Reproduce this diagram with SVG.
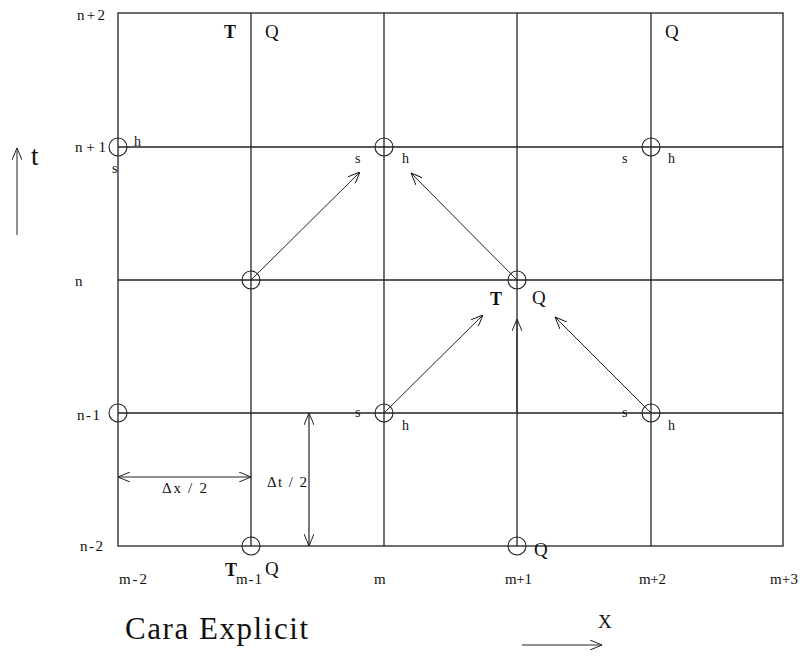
<svg xmlns="http://www.w3.org/2000/svg" width="812" height="659" viewBox="0 0 812 659">
<style>
.grid{stroke:#222;stroke-width:1.3;fill:none}
.arr{stroke:#222;stroke-width:1;fill:none;marker-end:url(#ah)}
.darr{stroke:#222;stroke-width:1.2;fill:none;marker-end:url(#ah);marker-start:url(#ah)}
.node{stroke:#222;stroke-width:1.1;fill:none}
text{font-family:"Liberation Serif","Times New Roman",serif;fill:#111}
.sm{font-size:15px}
.xs{font-size:14px}
.lb{font-size:19px}
.tb{font-size:18px;font-weight:bold}
</style>
<defs>
<marker id="ah" viewBox="0 0 12 10" refX="12" refY="5" markerWidth="12" markerHeight="10" markerUnits="userSpaceOnUse" orient="auto-start-reverse">
<path d="M0,0 L12,5 L0,10" fill="none" stroke="#222" stroke-width="1"/>
</marker>
</defs>
<rect width="812" height="659" fill="#fff"/>
<g id="grid">
<rect class="grid" x="118" y="13" width="665" height="533"/>
<line class="grid" x1="251" y1="13" x2="251" y2="546"/>
<line class="grid" x1="384" y1="13" x2="384" y2="546"/>
<line class="grid" x1="517" y1="13" x2="517" y2="546"/>
<line class="grid" x1="651" y1="13" x2="651" y2="546"/>
<line class="grid" x1="118" y1="147" x2="783" y2="147"/>
<line class="grid" x1="118" y1="280" x2="783" y2="280"/>
<line class="grid" x1="118" y1="413" x2="783" y2="413"/>
</g>
<g id="nodes">
<g id="n-m2-n1"><circle class="node" cx="118" cy="147" r="9"/><text class="xs" x="134" y="146">h</text><text class="xs" x="112" y="173">s</text></g>
<g id="n-m-n1"><circle class="node" cx="384" cy="147" r="9"/><text class="xs" x="355" y="163">s</text><text class="xs" x="402" y="163">h</text></g>
<g id="n-m2p-n1"><circle class="node" cx="651" cy="147" r="9"/><text class="xs" x="622" y="163">s</text><text class="xs" x="668" y="163">h</text></g>
<g id="n-m1-n"><circle class="node" cx="251" cy="280" r="9"/></g>
<g id="n-mp1-n"><circle class="node" cx="517" cy="280" r="9"/><text class="tb" x="490" y="305">T</text><text class="lb" x="532" y="304">Q</text></g>
<g id="n-m2-nm1"><circle class="node" cx="118" cy="413" r="9"/></g>
<g id="n-m-nm1"><circle class="node" cx="384" cy="413" r="9"/><text class="xs" x="355" y="417">s</text><text class="xs" x="402" y="430">h</text></g>
<g id="n-m2p-nm1"><circle class="node" cx="651" cy="413" r="9"/><text class="xs" x="622" y="417">s</text><text class="xs" x="668" y="430">h</text></g>
<g id="n-m1-nm2"><circle class="node" cx="251" cy="546" r="9"/><text class="tb" x="225" y="576">T</text><text class="lb" x="265" y="575">Q</text></g>
<g id="n-mp1-nm2"><circle class="node" cx="517" cy="546" r="9"/><text class="lb" x="534" y="556">Q</text></g>
</g>
<g id="connectors">
<line class="arr" x1="251" y1="280" x2="360" y2="172"/>
<line class="arr" x1="517" y1="280" x2="411" y2="173"/>
<line class="arr" x1="384" y1="413" x2="483" y2="315"/>
<line class="arr" x1="517" y1="413" x2="517" y2="319"/>
<line class="arr" x1="651" y1="413" x2="555" y2="317"/>
<line class="darr" x1="118" y1="477" x2="251" y2="477"/>
<line class="darr" x1="309" y1="413" x2="309" y2="546"/>
<line class="arr" x1="17" y1="235" x2="17" y2="148"/>
<line class="arr" x1="522" y1="645" x2="602" y2="645"/>
</g>
<g id="labels">
<text class="tb" x="224" y="38">T</text>
<text class="lb" x="265" y="38">Q</text>
<text class="lb" x="665" y="38">Q</text>
<text class="sm" x="77" y="20" textLength="28">n+2</text>
<text class="sm" x="75" y="152" textLength="31">n+1</text>
<text class="sm" x="75" y="286">n</text>
<text class="sm" x="77" y="420" textLength="23">n-1</text>
<text class="sm" x="80" y="551" textLength="23">n-2</text>
<text class="sm" x="119" y="584" textLength="28">m-2</text>
<text class="sm" x="236" y="584" textLength="26">m-1</text>
<text class="sm" x="374" y="584">m</text>
<text class="sm" x="505" y="584" textLength="27">m+1</text>
<text class="sm" x="639" y="584" textLength="27">m+2</text>
<text class="sm" x="770" y="584" textLength="28">m+3</text>
<text class="sm" x="162" y="493" textLength="45">Δx / 2</text>
<text class="sm" x="267" y="487" textLength="40">Δt / 2</text>
<text x="31" y="165" font-size="27">t</text>
<text x="598" y="628" font-size="19">X</text>
<text x="125" y="639" font-size="31" textLength="183">Cara Explicit</text>
</g>
</svg>
